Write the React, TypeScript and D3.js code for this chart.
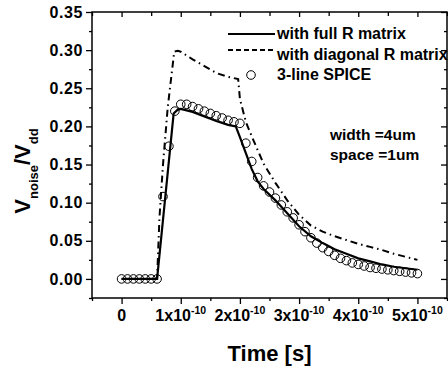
import { useEffect, useRef } from 'react'
import * as d3 from 'd3'

const W = 448
const H = 369

// time in units of 1e-10 s
const spiceT = [0, 0.1, 0.2, 0.3, 0.4, 0.5, 0.6, 0.7, 0.8, 0.9, 1.0, 1.1, 1.2, 1.3, 1.4, 1.5, 1.6, 1.7, 1.8, 1.9, 2.0, 2.1, 2.2, 2.3, 2.4, 2.5, 2.6, 2.7, 2.8, 2.9, 3.0, 3.1, 3.2, 3.3, 3.4, 3.5, 3.6, 3.7, 3.8, 3.9, 4.0, 4.1, 4.2, 4.3, 4.4, 4.5, 4.6, 4.7, 4.8, 4.9, 5.0]
const spiceV = [0, 0, 0, 0, 0, 0, 0, 0.108, 0.174, 0.220, 0.229, 0.229, 0.226, 0.223, 0.220, 0.217, 0.214, 0.211, 0.208, 0.206, 0.204, 0.178, 0.154, 0.133, 0.122, 0.114, 0.106, 0.097, 0.088, 0.080, 0.071, 0.062, 0.054, 0.047, 0.041, 0.036, 0.031, 0.027, 0.024, 0.021, 0.019, 0.017, 0.015, 0.014, 0.013, 0.012, 0.011, 0.010, 0.009, 0.008, 0.007]

const fullT = [0, 0.6, 0.88, 0.95, 1.0, 1.2, 1.4, 1.6, 1.8, 1.93, 2.0, 2.1, 2.2, 2.3, 2.4, 2.6, 2.8, 3.0, 3.2, 3.4, 3.6, 3.8, 4.0, 4.2, 4.4, 4.6, 4.8, 5.0]
const fullV = [0, 0, 0.217, 0.222, 0.223, 0.219, 0.213, 0.207, 0.202, 0.200, 0.186, 0.165, 0.144, 0.128, 0.118, 0.103, 0.086, 0.069, 0.056, 0.047, 0.039, 0.033, 0.027, 0.023, 0.019, 0.016, 0.014, 0.012]

const diagT = [0, 0.6, 0.64, 0.7, 0.78, 0.89, 0.95, 1.0, 1.2, 1.4, 1.6, 1.8, 1.97, 2.0, 2.1, 2.2, 2.4, 2.6, 2.8, 3.0, 3.2, 3.4, 3.6, 3.8, 4.0, 4.2, 4.4, 4.6, 4.8, 5.0]
const diagV = [0, 0, 0.08, 0.15, 0.225, 0.298, 0.299, 0.298, 0.288, 0.279, 0.270, 0.265, 0.262, 0.236, 0.206, 0.187, 0.151, 0.126, 0.103, 0.084, 0.070, 0.062, 0.056, 0.051, 0.046, 0.042, 0.038, 0.033, 0.029, 0.025]

const yTicks = [0, 0.05, 0.1, 0.15, 0.2, 0.25, 0.3, 0.35]
const yMinor = [-0.025, 0.025, 0.075, 0.125, 0.175, 0.225, 0.275, 0.325]
const xTicks = [0, 1, 2, 3, 4, 5]
const xMinor = [-0.5, 0.5, 1.5, 2.5, 3.5, 4.5, 5.5]
const legendLabels = ['with full R matrix', 'with diagonal R matrix', '3-line SPICE']
const notes = ['width =4um', 'space =1um']

const FONT = "'Liberation Sans', Arial, sans-serif"

export default function App() {
  const svgRef = useRef<SVGSVGElement>(null)

  useEffect(() => {
    document.body.style.margin = '0'
    const svg = d3.select(svgRef.current)
    svg.selectAll('*').remove()

    const margin = { top: 12, right: 1, bottom: 71, left: 92 }
    const x = d3.scaleLinear().domain([-0.5, 5.5]).range([margin.left, W - margin.right])
    const y = d3.scaleLinear().domain([-0.025, 0.35]).range([H - margin.bottom, margin.top])
    const x0 = margin.left
    const x1 = W - margin.right
    const y0 = H - margin.bottom
    const y1 = margin.top

    const g = svg.append('g').attr('font-family', FONT).attr('font-weight', 'bold')

    const styleAxis = (ax: any) => {
      ax.select('.domain').remove()
      ax.selectAll('.tick line').attr('stroke', '#000').attr('stroke-width', 1.3)
    }

    // left
    g.append('g').attr('transform', `translate(${x0},0)`)
      .call(d3.axisLeft(y).tickValues(yTicks).tickSize(6).tickPadding(3).tickFormat(d3.format('.2f') as any))
      .call(styleAxis)
      .call((ax: any) => ax.selectAll('text').attr('fill', '#000').attr('font-size', 16)
        .attr('letter-spacing', 0.6).attr('font-family', FONT).attr('font-weight', 'bold'))
    g.append('g').attr('transform', `translate(${x0},0)`)
      .call(d3.axisLeft(y).tickValues(yMinor).tickSize(3).tickFormat(() => ''))
      .call(styleAxis)
    // right (inward)
    g.append('g').attr('transform', `translate(${x1},0)`)
      .call(d3.axisLeft(y).tickValues(yTicks).tickSize(6).tickFormat(() => ''))
      .call(styleAxis)
    g.append('g').attr('transform', `translate(${x1},0)`)
      .call(d3.axisLeft(y).tickValues(yMinor).tickSize(3).tickFormat(() => ''))
      .call(styleAxis)
    // bottom
    g.append('g').attr('transform', `translate(0,${y0})`)
      .call(d3.axisBottom(x).tickValues(xTicks).tickSize(6).tickFormat(() => ''))
      .call(styleAxis)
    g.append('g').attr('transform', `translate(0,${y0})`)
      .call(d3.axisBottom(x).tickValues(xMinor).tickSize(3).tickFormat(() => ''))
      .call(styleAxis)
    // top (inward)
    g.append('g').attr('transform', `translate(0,${y1})`)
      .call(d3.axisBottom(x).tickValues(xTicks).tickSize(5).tickFormat(() => ''))
      .call(styleAxis)
    g.append('g').attr('transform', `translate(0,${y1})`)
      .call(d3.axisBottom(x).tickValues(xMinor).tickSize(4).tickFormat(() => ''))
      .call(styleAxis)

    // x tick labels with exponent
    xTicks.forEach((t) => {
      const tx = g.append('text')
        .attr('x', x(t)).attr('y', y0 + 23)
        .attr('text-anchor', 'middle').attr('font-size', 16).attr('fill', '#000')
      if (t === 0) {
        tx.text('0')
      } else {
        tx.append('tspan').text(`${t}x10`)
        tx.append('tspan').attr('font-size', 10.5).attr('dy', -7).text('-10')
      }
    })

    // frame
    g.append('rect')
      .attr('x', x0).attr('y', y1).attr('width', x1 - x0).attr('height', y0 - y1)
      .attr('fill', 'none').attr('stroke', '#000').attr('stroke-width', 1.5)

    const line = d3.line<[number, number]>().x((d) => x(d[0])).y((d) => y(d[1]))

    const clip = svg.append('defs').append('clipPath').attr('id', 'plotclip')
    clip.append('rect').attr('x', x0).attr('y', y1).attr('width', x1 - x0).attr('height', y0 - y1)
    const plot = g.append('g').attr('clip-path', 'url(#plotclip)')

    plot.append('path')
      .datum(diagT.map((t, i) => [t, diagV[i]] as [number, number]))
      .attr('fill', 'none').attr('stroke', '#000').attr('stroke-width', 2)
      .attr('stroke-dasharray', '7,4,1.5,4')
      .attr('d', line)

    plot.append('path')
      .datum(fullT.map((t, i) => [t, fullV[i]] as [number, number]))
      .attr('fill', 'none').attr('stroke', '#000').attr('stroke-width', 2.2)
      .attr('d', line)

    plot.selectAll('circle.spice')
      .data(spiceT.map((t, i) => [t, spiceV[i]]))
      .join('circle')
      .attr('class', 'spice')
      .attr('cx', (d) => x(d[0])).attr('cy', (d) => y(d[1])).attr('r', 4.3)
      .attr('fill', 'none').attr('stroke', '#000').attr('stroke-width', 1)

    // legend
    const lx = 228
    const ly = 34
    g.append('line').attr('x1', lx).attr('x2', lx + 47).attr('y1', ly).attr('y2', ly)
      .attr('stroke', '#000').attr('stroke-width', 2.2)
    g.append('line').attr('x1', lx).attr('x2', lx + 47).attr('y1', ly + 16).attr('y2', ly + 16)
      .attr('stroke', '#000').attr('stroke-width', 2).attr('stroke-dasharray', '5,3')
    g.append('circle').attr('cx', lx + 23).attr('cy', ly + 41).attr('r', 4.3)
      .attr('fill', 'none').attr('stroke', '#000').attr('stroke-width', 1)
    legendLabels.forEach((s, i) => {
      g.append('text').attr('x', lx + 49).attr('y', ly + 5 + i * 20.5)
        .attr('font-size', 16).attr('fill', '#000').text(s)
    })

    notes.forEach((s, i) => {
      g.append('text').attr('x', 330).attr('y', 140 + i * 20)
        .attr('font-size', 15.5).attr('fill', '#000').text(s)
    })

    // axis titles
    g.append('text').attr('x', (x0 + x1) / 2).attr('y', 361)
      .attr('text-anchor', 'middle').attr('font-size', 22).attr('fill', '#000').text('Time [s]')

    const yl = g.append('text')
      .attr('transform', 'translate(30,171) rotate(-90)')
      .attr('text-anchor', 'middle').attr('font-size', 22).attr('fill', '#000')
    yl.append('tspan').text('V')
    yl.append('tspan').attr('font-size', 13).attr('dy', 8).text('noise')
    yl.append('tspan').attr('dy', -8).text('/V')
    yl.append('tspan').attr('font-size', 13).attr('dy', 8).text('dd')
  }, [])

  return <svg ref={svgRef} width={W} height={H} style={{ display: 'block', background: '#fff' }} />
}
